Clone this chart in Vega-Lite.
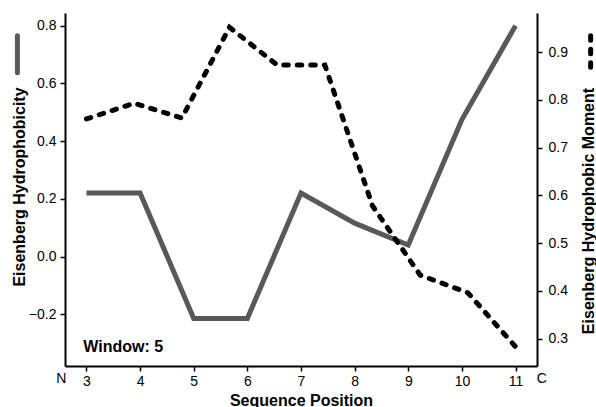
{
  "$schema": "https://vega.github.io/schema/vega-lite/v6.json",
  "autosize": "none",
  "width": 472,
  "height": 353,
  "padding": {"left": 65, "top": 13, "right": 59, "bottom": 41},
  "background": "white",
  "config": {
    "view": {"stroke": null},
    "font": "Liberation Sans",
    "axis": {
      "grid": false,
      "domainColor": "black",
      "domainWidth": 2,
      "tickColor": "black",
      "tickWidth": 1.5,
      "tickSize": 5,
      "labelFont": "Liberation Sans",
      "labelFontSize": 14,
      "labelColor": "black",
      "titleFont": "Liberation Sans",
      "titleFontSize": 16,
      "titleFontWeight": "bold",
      "titleColor": "black"
    }
  },
  "encoding": {
    "x": {
      "field": "pos",
      "type": "quantitative",
      "scale": {"domain": [2.6, 11.4], "nice": false, "zero": false},
      "axis": {
        "title": "Sequence Position",
        "values": [3, 4, 5, 6, 7, 8, 9, 10, 11],
        "format": "d",
        "labelFlush": false,
        "labelOverlap": false,
        "labelPadding": 3,
        "titleBaseline": "alphabetic",
        "titleY": 39
      }
    }
  },
  "layer": [
    {
      "layer": [
        {
          "data": {"values": [
            {"pos": 3, "hyd": 0.22},
            {"pos": 4, "hyd": 0.22},
            {"pos": 5, "hyd": -0.214},
            {"pos": 6, "hyd": -0.214},
            {"pos": 7, "hyd": 0.22},
            {"pos": 8, "hyd": 0.116},
            {"pos": 9, "hyd": 0.04},
            {"pos": 10, "hyd": 0.475},
            {"pos": 11, "hyd": 0.80}
          ]},
          "mark": {"type": "line", "color": "#595959", "strokeWidth": 5, "clip": false},
          "encoding": {
            "y": {
              "field": "hyd",
              "type": "quantitative",
              "title": "Eisenberg Hydrophobicity",
              "scale": {"domain": [-0.379, 0.844], "nice": false, "zero": false},
              "axis": {
                "orient": "left",
                "values": [-0.2, 0, 0.2, 0.4, 0.6, 0.8],
                "format": ".1f",
                "labelPadding": 4,
                "titleAngle": 270,
                "titleBaseline": "alphabetic",
                "titleAlign": "center",
                "titleX": -41,
                "titleY": 173.5
              }
            }
          }
        },
        {
          "data": {"values": [
            {"pos": 2.94, "hyd": -0.314, "label": "Window: 5"}
          ]},
          "mark": {"type": "text", "align": "left", "baseline": "middle", "fontSize": 16, "fontWeight": "bold", "font": "Liberation Sans", "color": "black"},
          "encoding": {
            "y": {"field": "hyd", "type": "quantitative", "title": "Eisenberg Hydrophobicity"},
            "text": {"field": "label"}
          }
        },
        {
          "data": {"values": [
            {"pos": 2.53, "hyd": -0.4254, "label": "N"},
            {"pos": 11.49, "hyd": -0.4254, "label": "C"}
          ]},
          "mark": {"type": "text", "align": "center", "baseline": "middle", "fontSize": 14, "font": "Liberation Sans", "color": "black", "clip": false},
          "encoding": {
            "y": {"field": "hyd", "type": "quantitative", "title": "Eisenberg Hydrophobicity"},
            "text": {"field": "label"}
          }
        },
        {
          "data": {"values": [{"pos": 1.713, "hyd": 0.765, "hyd2": 0.637}]},
          "mark": {"type": "rule", "color": "#595959", "strokeWidth": 5, "strokeCap": "round", "clip": false},
          "encoding": {
            "y": {"field": "hyd", "type": "quantitative", "title": "Eisenberg Hydrophobicity"},
            "y2": {"field": "hyd2"}
          }
        }
      ]
    },
    {
      "layer": [
        {
          "data": {"values": [
            {"pos": 3, "mom": 0.760},
            {"pos": 3.889, "mom": 0.793},
            {"pos": 4.778, "mom": 0.762},
            {"pos": 5.667, "mom": 0.952},
            {"pos": 6.556, "mom": 0.873},
            {"pos": 7.444, "mom": 0.873},
            {"pos": 8.333, "mom": 0.578},
            {"pos": 9.222, "mom": 0.433},
            {"pos": 10.111, "mom": 0.396},
            {"pos": 11, "mom": 0.283}
          ]},
          "mark": {"type": "line", "color": "black", "strokeWidth": 5, "strokeDash": [4.5, 9], "strokeCap": "round", "clip": false},
          "encoding": {
            "y": {
              "field": "mom",
              "type": "quantitative",
              "title": "Eisenberg Hydrophobic Moment",
              "scale": {"domain": [0.2426, 0.982], "nice": false, "zero": false},
              "axis": {
                "orient": "right",
                "values": [0.3, 0.4, 0.5, 0.6, 0.7, 0.8, 0.9],
                "format": ".1f",
                "labelPadding": 6,
                "titleAngle": 270,
                "titleBaseline": "alphabetic",
                "titleAlign": "center",
                "titleX": 56.8,
                "titleY": 197.5
              }
            }
          }
        },
        {
          "data": {"values": [{"pos": 12.4, "mom": 0.9346, "mom2": 0.8577}]},
          "mark": {"type": "rule", "color": "black", "strokeWidth": 5, "strokeCap": "round", "strokeDash": [4.5, 9], "clip": false},
          "encoding": {
            "y": {"field": "mom", "type": "quantitative", "title": "Eisenberg Hydrophobic Moment"},
            "y2": {"field": "mom2"}
          }
        }
      ]
    }
  ],
  "resolve": {"scale": {"y": "independent"}}
}
